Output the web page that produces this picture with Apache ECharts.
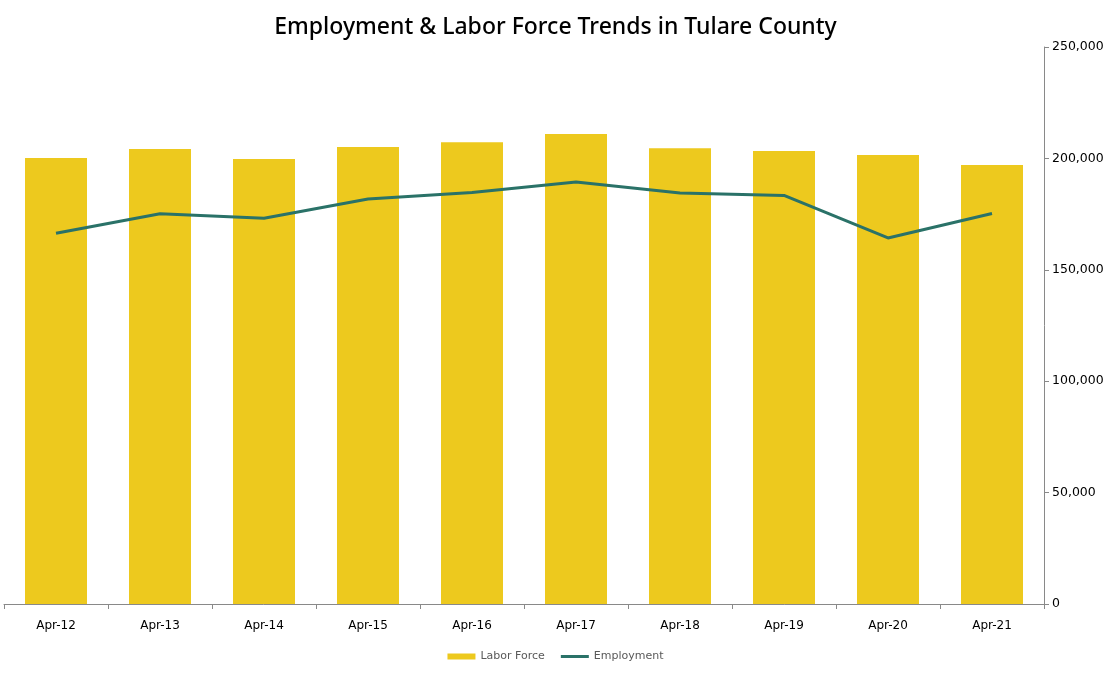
<!DOCTYPE html>
<html><head><meta charset="utf-8">
<script src="https://cdn.jsdelivr.net/npm/echarts@6/dist/echarts.min.js"></script>
<style>html,body{margin:0;padding:0;background:#fff}#c{width:1111px;height:674px}</style>
</head><body><div id="c"></div>
<script>
var categories = ['Apr-12','Apr-13','Apr-14','Apr-15','Apr-16','Apr-17','Apr-18','Apr-19','Apr-20','Apr-21'];
var laborForce = [200150, 204200, 199700, 205100, 207300, 210900, 204600, 203300, 201500, 197000];
var employment = [166400, 175200, 173100, 181800, 184700, 189400, 184500, 183400, 164300, 175300];
var chart = echarts.init(document.getElementById('c'));
chart.setOption({
  animation: false,
  title: {
    text: 'Employment & Labor Force Trends in Tulare County',
    left: 'center', top: 11,
    textStyle: {fontFamily: 'Noto Sans', fontSize: 23, fontWeight: 500, color: '#000'}
  },
  legend: {
    bottom: 7, left: 'center', itemGap: 16, itemWidth: 28, itemHeight: 6,
    symbolKeepAspect: true,
    textStyle: {fontFamily: 'DejaVu Sans', fontSize: 11, color: '#595959'},
    data: [
      {name: 'Labor Force', icon: 'rect'},
      {name: 'Employment', icon: 'path://M0,0 L28,0 L28,3 L0,3 Z'}
    ]
  },
  grid: {left: 4, right: 67, top: 47, bottom: 70, containLabel: false},
  xAxis: {
    type: 'category', data: categories,
    axisLine: {lineStyle: {color: '#898989', width: 1}},
    axisTick: {show: true, alignWithLabel: false, length: 5, lineStyle: {color: '#898989'}},
    axisLabel: {color: '#000', fontFamily: 'DejaVu Sans', fontSize: 12, margin: 16}
  },
  yAxis: {
    type: 'value', position: 'right', min: 0, max: 250000, interval: 50000,
    axisLine: {show: true, lineStyle: {color: '#898989', width: 1}},
    axisTick: {show: true, length: 5, lineStyle: {color: '#898989'}},
    splitLine: {show: false},
    axisLabel: {color: '#000', fontFamily: 'DejaVu Sans', fontSize: 12.5, margin: 8,
      formatter: function(v){ return v.toLocaleString('en-US'); }}
  },
  series: [
    {name: 'Labor Force', type: 'bar', data: laborForce, barWidth: 62,
     itemStyle: {color: '#EDC91E'}},
    {name: 'Employment', type: 'line', data: employment, symbol: 'none',
     lineStyle: {color: '#2A7268', width: 3}, itemStyle: {color: '#2A7268'}}
  ]
});
</script></body></html>
